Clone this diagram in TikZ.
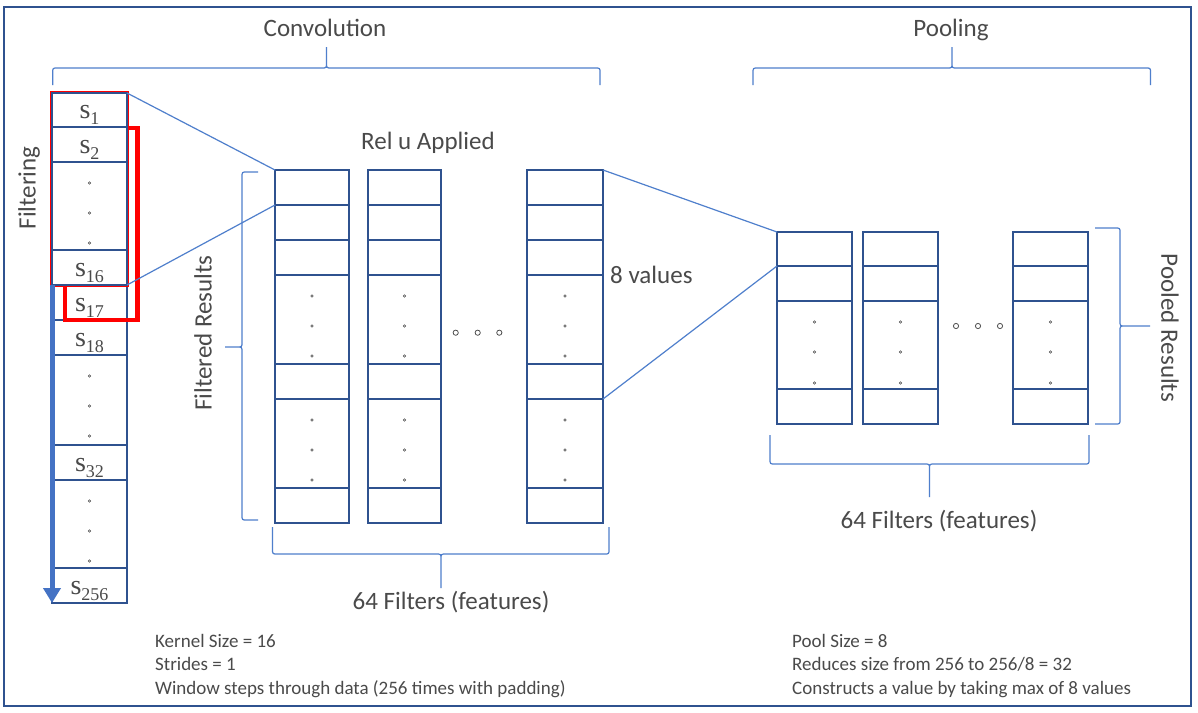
\documentclass[tikz,border=0pt]{standalone}
\usepackage{fontspec}
\setmainfont{Carlito}
\newfontfamily\serf{Liberation Serif}
\usetikzlibrary{arrows.meta}
\definecolor{cellblue}{HTML}{2F528F}
\definecolor{lineblue}{HTML}{4F7FCC}
\definecolor{arrowblue}{HTML}{4472C4}
\definecolor{txt}{HTML}{4A4A4A}
\definecolor{winred}{HTML}{FF0000}
\newcommand\slab[1]{{\serf\fontsize{28}{28}\selectfont s}\raisebox{-6pt}{\serf\fontsize{18}{18}\selectfont #1}}
% horizontal brace: L R T(tip x) E(end y) H(bar y) P(tip y) d(+5 if ends below bar)
\newcommand\drawhbrace[7]{%
  \draw[bracestyle] (#1,#4) -- (#1,{#5+(#7)}) .. controls (#1,#5) .. ({#1+5},#5)
    -- ({#3-5},#5) .. controls (#3,#5) .. (#3,{#5-(#7)}) -- (#3,#6)
    (#3,{#5-(#7)}) .. controls (#3,#5) .. ({#3+5},#5)
    -- ({#2-5},#5) .. controls (#2,#5) .. (#2,{#5+(#7)}) -- (#2,#4);}
% vertical brace: T B M(tip y) E(end x) V(bar x) P(tip x) d(+5 if ends right of bar)
\newcommand\drawvbrace[7]{%
  \draw[bracestyle] (#4,#1) -- ({#5+(#7)},#1) .. controls (#5,#1) .. (#5,{#1+5})
    -- (#5,{#3-5}) .. controls (#5,#3) .. ({#5-(#7)},#3) -- (#6,#3)
    ({#5-(#7)},#3) .. controls (#5,#3) .. (#5,{#3+5})
    -- (#5,{#2-5}) .. controls (#5,#2) .. ({#5+(#7)},#2) -- (#4,#2);}
\begin{document}
\begin{tikzpicture}[x=1pt,y=-1pt,
  cell/.style={draw=cellblue, line width=1.8pt, fill=white, inner sep=0pt, outer sep=0pt, anchor=north west},
  conn/.style={draw=lineblue, line width=1.2pt},
  bracestyle/.style={draw=lineblue, line width=1.2pt, line join=round},
  lbl/.style={font=\fontsize{25}{25}\selectfont, text=txt, inner sep=0pt},
  note/.style={font=\fontsize{19}{19}\selectfont, text=txt, inner sep=0pt, anchor=base west},
  sdot/.style={draw=txt, line width=0.6pt},
  bigdot/.style={draw=txt, line width=0.8pt},
  win/.style={draw=winred}]
\useasboundingbox (0,0) rectangle (1198,712);
\fill[white] (0,0) rectangle (1198,712);
\draw[cellblue, line width=2.5pt] (4,7) rectangle (1191,706);

% ---------- input column, lower part
\foreach \t/\b/\i in {285/320/17, 320/355/18, 355/445/d2, 445/480/32, 480/568/d3, 568/603/256}
  \node[cell, minimum width=75pt, minimum height={(\b-\t)*1pt}] (in\i) at (52,\t) {};
% second window (behind the first)
\draw[win, line width=4.6pt] (65,128) rectangle (137.5,320);
% first window
\draw[win, line width=4pt, fill=white] (52,93) rectangle (127,285);
\foreach \t/\b/\i in {93/127/1, 127/162/2, 162/250/d1, 250/285/16}
  \node[cell, minimum width=75pt, minimum height={(\b-\t)*1pt}] (in\i) at (52,\t) {};
% labels of input column
\foreach \i in {1,2,16,17,18,32,256}
  \path (in\i.south) ++(0,-9) node[anchor=base, inner sep=0pt, text=txt] {\slab{\i}};
\foreach \i in {d1,d2,d3}
  \foreach \dy in {21,51,81}
    \path[sdot] (in\i.north) ++(0,\dy) circle (1.3pt);
% arrow
\draw[arrowblue, line width=5pt, -{Triangle[width=17pt,length=15pt]}] (in17.north west) -- (in256.south west);

% ---------- convolution columns
\foreach \c/\x/\w in {A/275/74, B/368/73, C/527/76}{
  \foreach \t/\b/\i in {170/205/1, 205/240/2, 240/275/3, 275/364/4, 364/399/5, 399/488/6, 488/523/7}
    \node[cell, minimum width=\w pt, minimum height={(\b-\t)*1pt}] (c\c\i) at (\x,\t) {};
  \foreach \i in {4,6}
    \foreach \dy in {21,51,81}
      \path[sdot] (c\c\i.north) ++(0,\dy) circle (1.3pt);
}
\foreach \x in {455.7,477.7,499.3}
  \draw[bigdot] (\x,332.7) circle (2.6pt);

% ---------- pooling columns
\foreach \c/\x in {A/777, B/863, C/1013}{
  \foreach \t/\b/\i in {232/266/1, 266/301/2, 301/389/3, 389/424/4}
    \node[cell, minimum width=75pt, minimum height={(\b-\t)*1pt}] (p\c\i) at (\x,\t) {};
  \foreach \dy in {21,51,82}
    \path[sdot] (p\c3.north) ++(0,\dy) circle (1.3pt);
}
\foreach \x in {956,978,1000}
  \draw[bigdot] (\x,326) circle (2.6pt);

% ---------- connectors
\draw[conn] (in1.north east) -- (cA1.north west);
\draw[conn] (in16.south east) -- (cA1.south west);
\draw[conn] (cC1.north east) -- (pA1.north west);
\draw[conn] (cC5.south east) -- (pA1.south west);

% ---------- braces
\drawhbrace{52.7}{600}{326.5}{85}{68}{47}{5}
\drawhbrace{753}{1150.5}{952}{85}{68}{47}{5}
\drawhbrace{272.5}{609}{441}{527}{554}{588}{-5}
\drawhbrace{770}{1089}{929.5}{435}{464}{497}{-5}
\drawvbrace{172}{520}{347}{258}{242}{225}{5}
\drawvbrace{228}{424}{326}{1095}{1120}{1150}{-5}

% ---------- labels
\node[lbl, anchor=base] (tconv) at (325,36) {Convolution};
\node[lbl, anchor=base] (tpool) at (951,36) {Pooling};
\node[lbl, anchor=base] (trelu) at (428,149) {Rel u Applied};
\node[lbl, anchor=base west] (t8) at (610,283) {8 values};
\node[lbl, anchor=base] (t64a) at (451,609) {64 Filters (features)};
\node[lbl, anchor=base] (t64b) at (939,528) {64 Filters (features)};
\node[lbl, rotate=90] (tfilt) at (29,188) {Filtering};
\node[lbl, rotate=90] (tfres) at (203,333) {Filtered Results};
\node[lbl, rotate=-90] (tpres) at (1170,328) {Pooled Results};

\node[note] (n1) at (155,647) {Kernel Size = 16};
\node[note] (n2) at (155,670) {Strides = 1};
\node[note] (n3) at (155,694) {Window steps through data (256 times with padding)};
\node[note] (n4) at (792,647) {Pool Size = 8};
\node[note] (n5) at (792,670) {Reduces size from 256 to 256/8 = 32};
\node[note] (n6) at (792,694) {Constructs a value by taking max of 8 values};
\end{tikzpicture}
\end{document}
